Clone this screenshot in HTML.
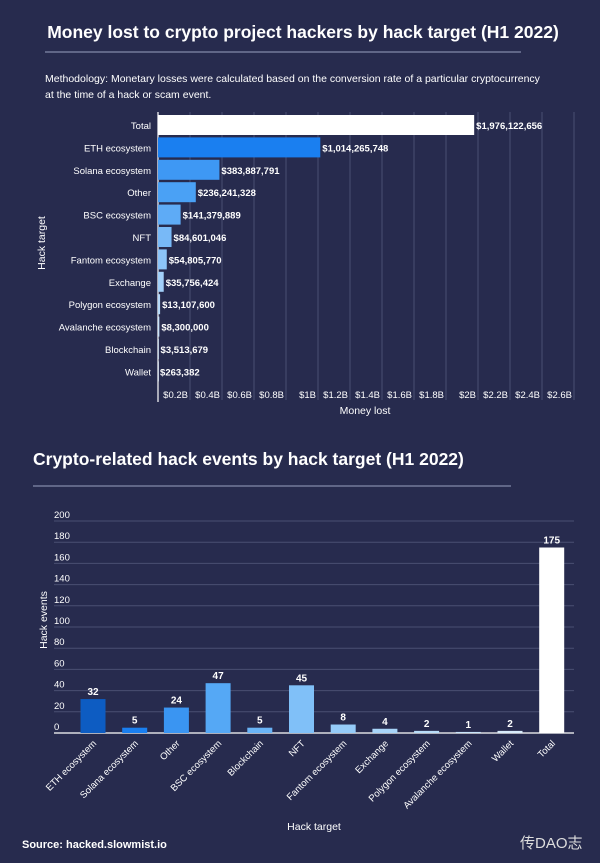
<!DOCTYPE html>
<html><head><meta charset="utf-8"><style>
html,body{margin:0;padding:0;background:#272b4e;}
body{width:600px;height:863px;overflow:hidden;position:relative;font-family:"Liberation Sans","Noto Sans CJK SC",sans-serif;color:#fff;}
svg{position:absolute;left:0;top:0}
</style></head><body>
<svg id="s" width="600" height="863">
<text x="303" y="38" text-anchor="middle" font-size="17.5" font-weight="bold" fill="#fff">Money lost to crypto project hackers by hack target (H1 2022)</text>
<line x1="45" y1="52" x2="521" y2="52" stroke="#9aa0c0" stroke-width="1"/>
<text x="45" y="82" font-size="10.5" fill="#fff">Methodology: Monetary losses were calculated based on the conversion rate of a particular cryptocurrency</text>
<text x="45" y="98" font-size="10.5" fill="#fff">at the time of a hack or scam event.</text>
<g id="c1"></g>
<text x="33" y="465" font-size="17.5" font-weight="bold" fill="#fff">Crypto-related hack events by hack target (H1 2022)</text>
<line x1="33" y1="486" x2="511" y2="486" stroke="#9aa0c0" stroke-width="1"/>
<g id="c2"></g>
<text x="22" y="848" font-size="11" font-weight="bold" fill="#fff">Source: hacked.slowmist.io</text>
<text x="520" y="848" font-size="15" fill="#ddd">传DAO志</text>
</svg>
<script>
const NS="http://www.w3.org/2000/svg";
function mk(p,t,a,txt){const e=document.createElementNS(NS,t);for(const k in a)e.setAttribute(k,a[k]);if(txt!=null)e.textContent=txt;p.appendChild(e);return e;}
// Chart 1 data
const c1Cats=["Total","ETH ecosystem","Solana ecosystem","Other","BSC ecosystem","NFT","Fantom ecosystem","Exchange","Polygon ecosystem","Avalanche ecosystem","Blockchain","Wallet"];
const c1Vals=[1976122656,1014265748,383887791,236241328,141379889,84601046,54805770,35756424,13107600,8300000,3513679,263382];
const c1Labels=["$1,976,122,656","$1,014,265,748","$383,887,791","$236,241,328","$141,379,889","$84,601,046","$54,805,770","$35,756,424","$13,107,600","$8,300,000","$3,513,679","$263,382"];
const c1Ticks=[0.2,0.4,0.6,0.8,1,1.2,1.4,1.6,1.8,2,2.2,2.4,2.6];
const c1TickLabels=["$0.2B","$0.4B","$0.6B","$0.8B","$1B","$1.2B","$1.4B","$1.6B","$1.8B","$2B","$2.2B","$2.4B","$2.6B"];
const c1Colors=["#ffffff","#1a7ff0","#3e98f4","#4aa1f5","#5eabf6","#78b9f7","#8cc4f8","#a2d0f9","#b6dafa","#c8e3fb","#d8ecfc","#e6f2fd"];
// Chart 2 data
const c2Cats=["ETH ecosystem","Solana ecosystem","Other","BSC ecosystem","Blockchain","NFT","Fantom ecosystem","Exchange","Polygon ecosystem","Avalanche ecosystem","Wallet","Total"];
const c2Vals=[32,5,24,47,5,45,8,4,2,1,2,175];
const c2Ticks=[0,20,40,60,80,100,120,140,160,180,200];
const c2Colors=["#0d5cc2","#1a7ff0","#3a95f2","#55a8f5","#6ab4f6","#80c0f8","#95cbf8","#a8d4f8","#b8dcf8","#c8e4fa","#d8ecfb","#ffffff"];

(function(){
 const g=document.getElementById('c1');
 const x0=158,pxPerB=160,top=115,step=22.4;
 const X=v=>x0+v/1e9*pxPerB;
 const Y=i=>top+i*step;
 c1Ticks.forEach((t,i)=>{
  const gl=mk(g,'line',{x1:X(t*1e9),x2:X(t*1e9),y1:112,y2:400,stroke:'#4a4f72','stroke-width':1});
  
  
  const tl=mk(g,'text',{x:X(t*1e9)-2,y:398,'text-anchor':'end','font-size':9.5,fill:'#fff'},c1TickLabels[i]);
  
  
 });
 const ax=mk(g,'line',{x1:x0,x2:x0,y1:112,y2:402,stroke:'#fff','stroke-width':1.2});
 
 
 c1Cats.forEach((c,i)=>{
  const y=Y(i);
  const b=mk(g,'rect',{x:x0,y:y,width:Math.max(0.8,X(c1Vals[i])-x0),height:20,fill:c1Colors[i]});
  
  
  const l=mk(g,'text',{x:x0-7,y:y+14,'text-anchor':'end','font-size':9.5,fill:'#fff'},c);
  
  
  const v=mk(g,'text',{x:X(c1Vals[i])+2,y:y+14,'font-size':9.5,'font-weight':'bold',fill:'#fff'},c1Labels[i]);
  
  
 });
 const yt=mk(g,'text',{x:0,y:0,transform:'translate(45,243) rotate(-90)','text-anchor':'middle','font-size':10.5,fill:'#fff'},'Hack target');
 
 
 const xt=mk(g,'text',{x:365,y:414,'text-anchor':'middle','font-size':10.5,fill:'#fff'},'Money lost');
 
 
})();

(function(){
 const g=document.getElementById('c2');
 const base=733,pxPer=1.06,cx0=93,step=41.7,bw=25;
 const Y=v=>base-v*pxPer;
 const X=i=>cx0+i*step;
 c2Ticks.forEach(t=>{
  const gl=mk(g,'line',{x1:54,x2:574,y1:Y(t),y2:Y(t),stroke:t===0?'#fff':'#4a4f72','stroke-width':t===0?1.3:1});
  
  
  const tl=mk(g,'text',{x:54,y:Y(t)-3,'font-size':9.5,fill:'#fff'},String(t));
  
  
 });
 c2Cats.forEach((c,i)=>{
  const h=c2Vals[i]*pxPer;
  const b=mk(g,'rect',{x:X(i)-bw/2,y:base-h,width:bw,height:h,fill:c2Colors[i]});
  
  
  const v=mk(g,'text',{x:X(i),y:base-h-4,'text-anchor':'middle','font-size':10,'font-weight':'bold',fill:'#fff'},String(c2Vals[i]));
  
  
  const l=mk(g,'text',{x:0,y:0,transform:'translate('+(X(i)+4)+',744) rotate(-45)','text-anchor':'end','font-size':9.5,fill:'#fff'},c);
  
  
 });
 const yt=mk(g,'text',{x:0,y:0,transform:'translate(47,620) rotate(-90)','text-anchor':'middle','font-size':10.5,fill:'#fff'},'Hack events');
 
 
 const xt=mk(g,'text',{x:314,y:830,'text-anchor':'middle','font-size':10.5,fill:'#fff'},'Hack target');
 
 
})();
</script>
</body></html>
